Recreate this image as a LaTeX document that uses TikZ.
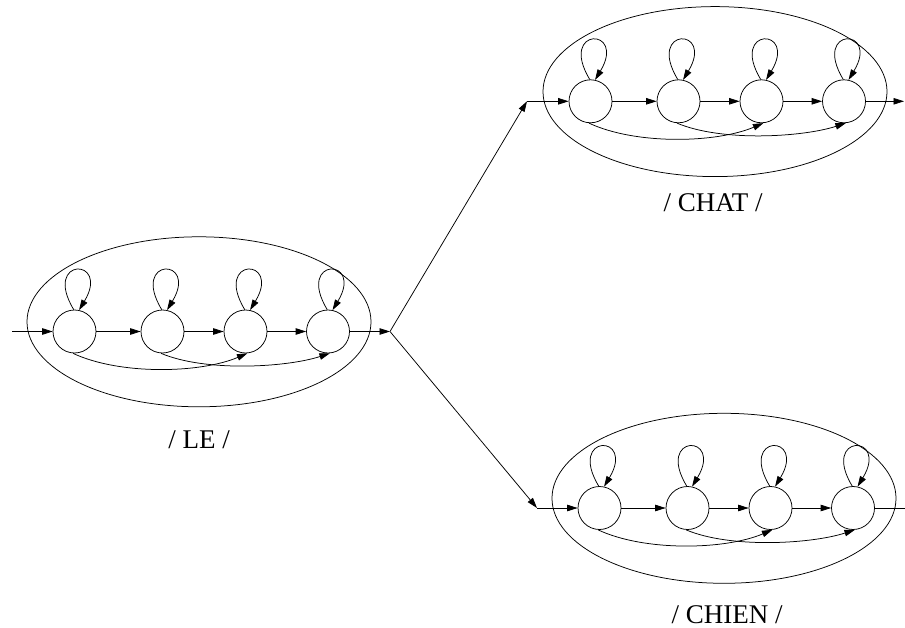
\documentclass[tikz,border=0pt]{standalone}
\usepackage{fontspec}
\setmainfont{Liberation Serif}
\usetikzlibrary{arrows.meta,shapes.geometric}
\newcommand\hmmmodel[3]{%
  \node[model] (#1e) at (#2+124.5,#3-9.7) {};
  \node[state] (#1a) at (#2,#3) {};
  \node[state] (#1b) at (#2+88,#3) {};
  \node[state] (#1c) at (#2+171,#3) {};
  \node[state] (#1d) at (#2+253.5,#3) {};
  \foreach \s in {a,b,c,d}
    \draw[arr] (#1\s.92) .. controls +(-32,-53) and +(32,-53) .. (#1\s.78);
  \draw[arr] (#1a) -- (#1b);
  \draw[arr] (#1b) -- (#1c);
  \draw[arr] (#1c) -- (#1d);
  \draw[arr] (#1a.266) .. controls +(47,22) and +(-47,20) .. (#1c.275);
  \draw[arr] (#1b.266) .. controls +(45,19) and +(-43,14) .. (#1d.275);
}
\begin{document}
\begin{tikzpicture}[x=1pt,y=-1pt,line width=0.75pt,
  arr/.style={-{Triangle[length=10.5pt,width=6.5pt]}},
  state/.style={circle,draw,minimum size=43pt,inner sep=0pt},
  model/.style={ellipse,draw,minimum width=344pt,minimum height=170pt,inner sep=0pt},
  lbl/.style={anchor=base,font=\fontsize{27}{32}\selectfont,inner sep=0pt}]
\useasboundingbox (0,0) rectangle (905,628);
\hmmmodel{le}{74.5}{331.5}
\hmmmodel{chat}{590.5}{101.3}
\hmmmodel{chien}{599.5}{508}
\node[lbl] (lelbl) at (199,448) {/ LE /};
\node[lbl] (chatlbl) at (713,211.7) {/ CHAT /};
\node[lbl] (chienlbl) at (727,623) {/ CHIEN /};
\coordinate (lein) at (12,331.5);
\coordinate (br) at (390,331.5);
\coordinate (chatin) at (527,101.3);
\coordinate (chatout) at (904,101.3);
\coordinate (chienin) at (537,508);
\coordinate (chienout) at (905,508);
\draw[arr] (lein) -- (lea);
\draw[arr] (led) -- (br);
\draw[arr] (br) -- (chatin);
\draw[arr] (chatin) -- (chata);
\draw[arr] (chatd) -- (chatout);
\draw[arr] (br) -- (chienin);
\draw[arr] (chienin) -- (chiena);
\draw (chiend) -- (chienout);
\end{tikzpicture}
\end{document}
